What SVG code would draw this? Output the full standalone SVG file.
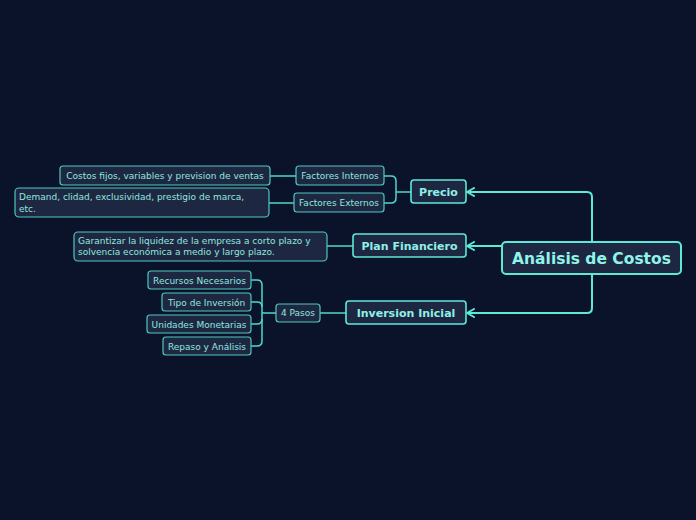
<svg xmlns="http://www.w3.org/2000/svg" width="696" height="520" viewBox="0 0 696 520">
<defs>
<marker id="arr" viewBox="0 0 10 10" refX="8" refY="5" markerWidth="10" markerHeight="10" markerUnits="userSpaceOnUse" orient="auto">
<path d="M1,1 L8,5 L1,9" fill="none" stroke="#5ee8d8" stroke-width="2" stroke-linecap="round" stroke-linejoin="round"/>
</marker>
<style>
.bg{fill:#0b132a}
.n{fill:#1e2742;stroke:#4fc7bd;stroke-width:1.2}
.n2{fill:#1e2742;stroke:#5ee8d8;stroke-width:1.6}
.n1{fill:#1e2742;stroke:#5ee8d8;stroke-width:2}
.c{fill:none;stroke:#5ee8d8;stroke-width:2}
.c1{fill:none;stroke:#4fd8ca;stroke-width:1.5}
.t{font-family:"DejaVu Sans",sans-serif;font-size:9px;fill:#8fe8de}
.t2{font-family:"DejaVu Sans",sans-serif;font-size:11px;font-weight:bold;fill:#8ff0e6}
.t1{font-family:"DejaVu Sans",sans-serif;font-size:15.5px;font-weight:bold;fill:#8ff5ea}
</style>
</defs>
<rect class="bg" width="696" height="520"/>
<g id="connectors">
<path class="c" d="M592,242 V197 Q592,192 587,192 H467" marker-end="url(#arr)"/>
<path class="c" d="M502,246 H467" marker-end="url(#arr)"/>
<path class="c" d="M592,274 V308 Q592,313 587,313 H467" marker-end="url(#arr)"/>
<path class="c1" d="M411,192 H396"/>
<path class="c1" d="M384,176 H391 Q396,176 396,181 V198 Q396,203 391,203 H384"/>
<path class="c1" d="M296,176 H270"/>
<path class="c1" d="M294,203 H269"/>
<path class="c1" d="M353,246 H327"/>
<path class="c1" d="M346,313 H320"/>
<path class="c1" d="M276,313 H262"/>
<path class="c1" d="M251,280 H257 Q262,280 262,285 V341 Q262,346 257,346 H251"/>
<path class="c1" d="M251,302 H257 Q262,302 262,307"/>
<path class="c1" d="M251,324 H257 Q262,324 262,319"/>
</g>
<g id="main"><rect class="n1" x="502" y="242" width="179" height="32" rx="4"/><text class="t1" x="591.5" y="264" text-anchor="middle">Análisis de Costos</text></g>
<g id="precio"><rect class="n2" x="411" y="180" width="55" height="23" rx="3"/><text class="t2" x="438.5" y="196" text-anchor="middle">Precio</text></g>
<g id="plan"><rect class="n2" x="353" y="234" width="113" height="23" rx="3"/><text class="t2" x="409.5" y="250" text-anchor="middle">Plan Financiero</text></g>
<g id="inversion"><rect class="n2" x="346" y="301" width="120" height="23" rx="3"/><text class="t2" x="406" y="317" text-anchor="middle">Inversion Inicial</text></g>
<g id="fint"><rect class="n" x="296" y="166" width="88" height="19" rx="3"/><text class="t" x="340" y="179" text-anchor="middle">Factores Internos</text></g>
<g id="fext"><rect class="n" x="294" y="193" width="90" height="19" rx="3"/><text class="t" x="339" y="206" text-anchor="middle">Factores Externos</text></g>
<g id="costos"><rect class="n" x="60" y="166" width="210" height="19" rx="3"/><text class="t" x="165" y="179" text-anchor="middle">Costos fijos, variables y prevision de ventas</text></g>
<g id="demand"><rect class="n" x="15" y="188" width="254" height="29" rx="4"/><text class="t" x="19" y="200">Demand, clidad, exclusividad, prestigio de marca,</text><text class="t" x="19" y="212">etc.</text></g>
<g id="garant"><rect class="n" x="74" y="232" width="253" height="29" rx="4"/><text class="t" x="78" y="244">Garantizar la liquidez de la empresa a corto plazo y</text><text class="t" x="78" y="255">solvencia económica a medio y largo plazo.</text></g>
<g id="pasos"><rect class="n" x="276" y="304" width="44" height="18" rx="3"/><text class="t" x="298" y="316" text-anchor="middle">4 Pasos</text></g>
<g id="recursos"><rect class="n" x="148" y="271" width="103" height="18" rx="3"/><text class="t" x="199.5" y="283.5" text-anchor="middle">Recursos Necesarios</text></g>
<g id="tipo"><rect class="n" x="162" y="293" width="89" height="18" rx="3"/><text class="t" x="206.5" y="305.5" text-anchor="middle">Tipo de Inversión</text></g>
<g id="unidades"><rect class="n" x="147" y="315" width="104" height="18" rx="3"/><text class="t" x="199" y="327.5" text-anchor="middle">Unidades Monetarias</text></g>
<g id="repaso"><rect class="n" x="163" y="337" width="88" height="18" rx="3"/><text class="t" x="207" y="349.5" text-anchor="middle">Repaso y Análisis</text></g>
</svg>
